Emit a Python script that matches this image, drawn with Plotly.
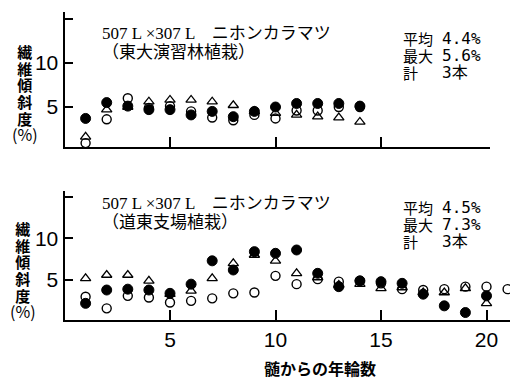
import plotly.graph_objects as go

W, H = 510, 381

# ---- data: top panel (東大演習林植栽) ----
years_top = list(range(1, 15))
top_filled = [3.7, 5.5, 5.1, 4.7, 4.7, 4.1, 4.5, 3.9, 4.5, 5.0, 5.4, 5.4, 5.4, 5.1]
top_open = [0.9, 3.6, 6.0, 4.9, 5.1, 4.5, 3.8, 3.5, 4.1, 3.7, 4.6, 4.6, 5.0, 5.0]
top_tri = [1.6, 4.7, 5.0, 5.6, 5.8, 5.8, 5.6, 5.2, 4.5, 4.3, 4.1, 3.9, 3.8, 3.3]

# ---- data: bottom panel (道東支場植栽) ----
years_bot = list(range(1, 21))
bot_filled = [2.2, 3.8, 3.9, 3.8, 3.4, 4.5, 7.3, 6.2, 8.4, 8.2, 8.6, 5.8, 4.2, 4.9,
              4.8, 4.6, 3.3, 1.9, 1.1, 3.1]
years_bot_open = list(range(1, 22))
bot_open = [3.0, 1.6, 3.1, 2.9, 2.3, 2.5, 2.8, 3.4, 3.5, 5.5, 4.5, 5.1, 4.8, 4.9,
            4.6, 3.9, 3.8, 3.9, 4.2, 4.2, 3.9]
bot_tri = [5.2, 5.6, 5.6, 4.9, 3.3, 3.7, 5.2, 7.0, 8.0, 7.3, 5.8, 5.3, 4.4, 4.5,
           4.0, 4.1, 3.5, 3.5, 4.0, 2.2]

yticks = [5, 10, 15]
ytick_labels = ["5", "10", ""]
xticks_top = [5, 10, 15]
xticks_bot = [5, 10, 15, 20]
xtick_labels_bot = ["5", "10", "15", "20"]

title_top = ["507 L ×307 L　ニホンカラマツ", "（東大演習林植栽）"]
title_bot = ["507 L ×307 L　ニホンカラマツ", "（道東支場植栽）"]
stat_names = ["平均", "最大", "計"]
stats_top = ["4.4%", "5.6%", "3本"]
stats_bot = ["4.5%", "7.3%", "3本"]
ylab_chars = ["繊", "維", "傾", "斜", "度", "(%)"]
xlab = "髄からの年輪数"


def px(x):
    return x / W


def py(y):
    return 1 - y / H


def sized(lines, size, bold=False):
    out = []
    for s in lines:
        t = "<b>" + s + "</b>" if bold else s
        out.append('<span style="font-size:%dpx">%s</span>' % (size, t))
    return "<br>".join(out)


fig = go.Figure()

mk_f = dict(symbol="circle", size=10, color="black", line=dict(color="black", width=1))
mk_o = dict(symbol="circle-open", size=9, color="black", line=dict(color="black", width=1.4))
mk_t = dict(symbol="triangle-up-open", size=9, color="black", line=dict(color="black", width=1.3))

for xa, ya, yrs, yrs_o, f, o, t in [
    ("x", "y", years_top, years_top, top_filled, top_open, top_tri),
    ("x2", "y2", years_bot, years_bot_open, bot_filled, bot_open, bot_tri),
]:
    fig.add_trace(go.Scatter(x=yrs, y=t, mode="markers", marker=mk_t, xaxis=xa, yaxis=ya,
                             showlegend=False, cliponaxis=False, hoverinfo="skip"))
    fig.add_trace(go.Scatter(x=yrs_o, y=o, mode="markers", marker=mk_o, xaxis=xa, yaxis=ya,
                             showlegend=False, cliponaxis=False, hoverinfo="skip"))
    fig.add_trace(go.Scatter(x=yrs, y=f, mode="markers", marker=mk_f, xaxis=xa, yaxis=ya,
                             showlegend=False, cliponaxis=False, hoverinfo="skip"))

axis_common = dict(showgrid=False, zeroline=False, showline=True, linecolor="black",
                   linewidth=2, ticks="inside", tickcolor="black", tickwidth=2)
tickfont = dict(family="Liberation Sans, Arial", size=21, color="black")

fig.update_layout(
    width=W, height=H, margin=dict(l=0, r=0, t=0, b=0),
    paper_bgcolor="white", plot_bgcolor="white",
    xaxis=dict(domain=[px(64.5), px(490)], range=[0, (490 - 64.5) / 21.1], anchor="y",
               tickvals=xticks_top, ticktext=["", "", ""], ticklen=10, **axis_common),
    yaxis=dict(domain=[py(147), py(12)], range=[(151 - 147) / 8.8, (151 - 12) / 8.8],
               anchor="x", tickvals=yticks, ticktext=ytick_labels, ticklen=8,
               tickfont=tickfont, **axis_common),
    xaxis2=dict(domain=[px(64.5), 1.0], range=[0, (510 - 64.5) / 21.1], anchor="y2",
                tickvals=xticks_bot, ticktext=xtick_labels_bot, ticklen=10,
                tickfont=tickfont, **axis_common),
    yaxis2=dict(domain=[py(320), py(191)], range=[(321.7 - 320) / 8.34, (321.7 - 191) / 8.34],
                anchor="x2", tickvals=yticks, ticktext=ytick_labels, ticklen=8,
                tickfont=tickfont, **axis_common),
)

ann = []
# titles: two lines, ~19 px line pitch
for lines, yc in [(title_top, 43), (title_bot, 212.5)]:
    ann.append(dict(x=px(100), y=py(yc), text=sized(lines, 17), xanchor="left",
                    yanchor="middle", align="left",
                    font=dict(family="Liberation Serif, Noto Sans CJK JP", size=14.4,
                              color="black")))

# statistics: names column and values column, ~17 px pitch
for stats, yc in [(stats_top, 55), (stats_bot, 224)]:
    ann.append(dict(x=px(401), y=py(yc), text=sized(stat_names, 15), xanchor="left",
                    yanchor="middle", align="left",
                    font=dict(family="Noto Sans CJK JP", size=13, color="black")))
    ann.append(dict(x=px(440), y=py(yc), text=sized(stats, 16), xanchor="left",
                    yanchor="middle", align="left",
                    font=dict(family="DejaVu Sans Mono, Noto Sans CJK JP", size=13,
                              color="black")))

# vertical y-axis labels
for xc, yc in [(25, 93.5), (23, 270)]:
    txt = "<br>".join(['<span style="font-size:15px"><b>%s</b></span>' % c
                       for c in ylab_chars[:-1]] +
                      ['<span style="font-size:16px">%s</span>' % ylab_chars[-1]])
    ann.append(dict(x=px(xc), y=py(yc), text=txt, xanchor="center", yanchor="middle",
                    align="center",
                    font=dict(family="Noto Sans CJK JP", size=12.8, color="black")))

ann.append(dict(x=px(320), y=py(368), text="<b>" + xlab + "</b>", xanchor="center",
                yanchor="middle", font=dict(family="Noto Sans CJK JP", size=16, color="black")))

for a in ann:
    a.update(xref="paper", yref="paper", showarrow=False)
fig.update_layout(annotations=ann)

fig.write_html("out.html", config={"displayModeBar": False, "staticPlot": True},
               post_script="document.body.style.margin='0';document.body.style.padding='0';")
